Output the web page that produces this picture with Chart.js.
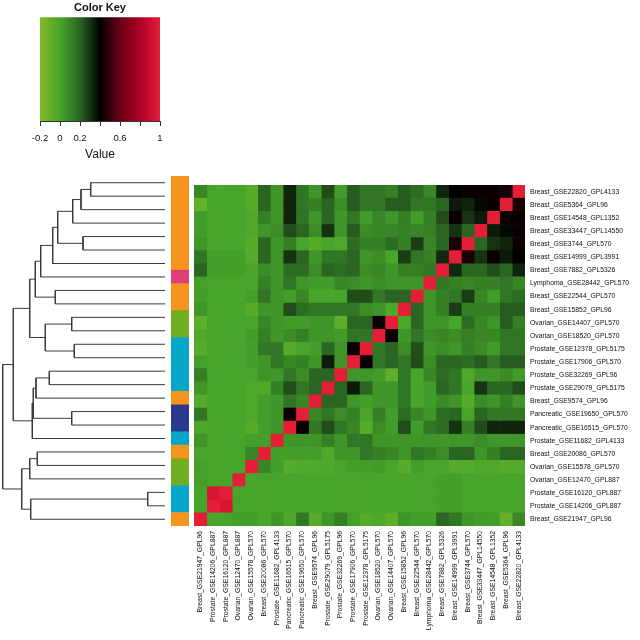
<!DOCTYPE html>
<html>
<head>
<meta charset="utf-8">
<script src="https://cdn.jsdelivr.net/npm/chart.js@4.4.0/dist/chart.umd.min.js"></script>
<style>
body { margin: 0; background: #fff; width: 640px; height: 640px; position: relative; overflow: hidden; }
.box { position: absolute; }
</style>
</head>
<body>
<div class="box" style="left:0;top:0;width:200px;height:165px"><canvas id="key"></canvas></div>
<div class="box" style="left:0;top:176px;width:165px;height:350px"><canvas id="dendro"></canvas></div>
<div class="box" style="left:171px;top:176px;width:18px;height:350px"><canvas id="side"></canvas></div>
<div class="box" style="left:194px;top:176px;width:446px;height:464px"><canvas id="heat"></canvas></div>
<script>
// rows, top to bottom (columns are the same samples, left to right = bottom to top)
var rowNames = [
    'Breast_GSE22820_GPL4133', 'Breast_GSE5364_GPL96', 'Breast_GSE14548_GPL1352',
    'Breast_GSE33447_GPL14550', 'Breast_GSE3744_GPL570', 'Breast_GSE14999_GPL3991',
    'Breast_GSE7882_GPL5326', 'Lymphoma_GSE28442_GPL570', 'Breast_GSE22544_GPL570',
    'Breast_GSE15852_GPL96', 'Ovarian_GSE14407_GPL570', 'Ovarian_GSE18520_GPL570',
    'Prostate_GSE12378_GPL5175', 'Prostate_GSE17906_GPL570', 'Prostate_GSE32269_GPL96',
    'Prostate_GSE29079_GPL5175', 'Breast_GSE9574_GPL96', 'Pancreatic_GSE19650_GPL570',
    'Pancreatic_GSE16515_GPL570', 'Prostate_GSE11682_GPL4133', 'Breast_GSE20086_GPL570',
    'Ovarian_GSE15578_GPL570', 'Ovarian_GSE12470_GPL887', 'Prostate_GSE16120_GPL887',
    'Prostate_GSE14206_GPL887', 'Breast_GSE21947_GPL96'
];
var colNames = rowNames.slice().reverse();

var typeColors = {
    Breast: '#f7941d', Lymphoma: '#e03d7c', Ovarian: '#72ad1f',
    Prostate: '#06a7c6', Pancreatic: '#2b3a8a'
};

// correlations: for each row, the cells left of the diagonal (column 1 .. 26-row)
var lowerCorr = [
    [0.10, 0.00, 0.00, 0.00, -0.05, 0.20, 0.05, 0.33, 0.15, 0.05, 0.25, 0.03, 0.22, 0.15, 0.15, 0.12, 0.22, 0.18, 0.10, 0.33, 0.40, 0.42, 0.42, 0.42, 0.45],
    [-0.10, 0.00, 0.00, 0.00, -0.05, 0.20, 0.05, 0.33, 0.15, 0.12, 0.20, 0.08, 0.22, 0.15, 0.15, 0.22, 0.22, 0.15, 0.15, 0.20, 0.35, 0.33, 0.38, 0.42],
    [0.03, 0.00, 0.00, 0.00, -0.03, 0.12, 0.05, 0.33, 0.15, 0.05, 0.20, 0.05, 0.15, 0.03, 0.10, 0.05, 0.12, 0.03, 0.12, 0.25, 0.42, 0.30, 0.35],
    [0.03, 0.00, 0.00, 0.00, -0.03, 0.05, 0.08, 0.25, 0.20, 0.08, 0.30, 0.05, 0.22, 0.08, 0.10, 0.10, 0.12, 0.10, 0.12, 0.20, 0.30, 0.20],
    [0.05, 0.00, 0.00, 0.00, -0.05, 0.20, 0.05, 0.12, 0.00, -0.05, 0.00, -0.03, 0.18, 0.12, 0.12, 0.18, 0.12, 0.28, 0.10, 0.20, 0.45],
    [0.15, 0.02, 0.02, 0.02, -0.05, 0.20, 0.05, 0.30, 0.20, 0.05, 0.15, 0.15, 0.20, 0.05, 0.08, 0.00, 0.28, 0.15, 0.12, 0.32],
    [0.20, 0.02, 0.02, 0.02, 0.00, 0.08, 0.05, 0.18, 0.18, 0.08, 0.20, 0.18, 0.20, 0.08, 0.10, 0.05, 0.12, 0.12, 0.15],
    [0.02, 0.00, 0.00, 0.00, 0.00, 0.12, 0.05, 0.15, 0.05, 0.03, 0.03, 0.10, 0.08, 0.05, 0.08, 0.05, 0.05, 0.05],
    [0.02, 0.00, 0.00, 0.00, 0.02, 0.15, 0.05, 0.03, 0.10, 0.00, 0.00, 0.00, 0.25, 0.25, 0.15, 0.20, 0.20],
    [0.05, 0.00, 0.00, 0.00, -0.05, 0.05, 0.05, 0.25, 0.18, 0.15, 0.15, 0.15, 0.15, 0.08, 0.05, -0.02],
    [-0.08, 0.00, 0.00, 0.00, 0.00, 0.10, 0.05, 0.03, 0.03, 0.05, 0.05, -0.08, 0.20, 0.20, 0.42],
    [-0.03, 0.00, 0.00, 0.00, 0.03, 0.12, 0.05, 0.08, 0.12, 0.05, 0.05, 0.03, 0.15, 0.15],
    [-0.05, 0.00, 0.00, 0.00, 0.02, 0.15, 0.15, -0.05, 0.00, 0.02, 0.20, 0.05, 0.42],
    [0.02, 0.00, 0.00, 0.00, 0.02, 0.05, 0.15, 0.10, 0.12, 0.05, 0.35, 0.05],
    [0.12, 0.00, 0.00, 0.00, 0.00, 0.05, 0.05, 0.15, 0.08, 0.20, 0.20],
    [0.05, 0.00, 0.00, 0.00, -0.03, -0.03, 0.12, 0.25, 0.15, 0.20],
    [-0.05, 0.00, 0.00, 0.00, -0.03, 0.02, 0.05, 0.15, 0.10],
    [0.15, 0.00, 0.00, 0.00, -0.03, 0.02, 0.05, 0.42],
    [-0.02, 0.00, 0.00, 0.00, -0.05, 0.02, 0.05],
    [0.05, 0.00, 0.00, 0.00, 0.02, 0.02],
    [0.00, 0.00, 0.00, 0.00, 0.10],
    [0.02, 0.00, 0.00, 0.00],
    [0.02, 0.00, 0.00],
    [0.00, 0.95],
    [0.00],
    []
];

// row dendrogram, hclust style: negative = leaf (row number), positive = earlier merge
var mergeLeft = [-1, 1, 2, -5, 3, 5, 6, -9, 7, -11, -13, 10, 9, -15, 14, -18, 15, 17, 13, -21, 20, -24, 22, 21, 19];
var mergeRight = [-2, -3, -4, -6, 4, -7, -8, -10, 8, -12, -14, 11, 12, -16, -17, -19, 16, -20, 18, -22, -23, -25, -26, 23, 24];
var mergeHeight = [74.3, 84, 92.3, 82, 107.3, 112.3, 124.3, 109.7, 129.7, 93.3, 90.7, 119.7, 135.3, 115.7, 129, 93.3, 131.7, 132.7, 151.7, 127.7, 135.3, 17.3, 134.3, 143.3, 162.3];

// colour key
var keyStops = [-0.2, 0, 0.2, 0.4, 0.6, 0.8, 1];
var keyColors = [[132, 187, 40], [70, 165, 42], [42, 102, 34], [0, 0, 0], [105, 0, 22], [175, 0, 38], [228, 30, 55]];
var keyTickLabels = ['-0.2', '0', '0.2', '', '0.6', '', '1'];

var labelFont = {family: '"Liberation Sans", Arial, sans-serif', size: 6.8};

function valueColor(v) {
    v = Math.max(keyStops[0], Math.min(1, v));
    for (var i = 1; i < keyStops.length; i++) {
        if (v <= keyStops[i]) {
            var t = (v - keyStops[i - 1]) / (keyStops[i] - keyStops[i - 1]);
            var a = keyColors[i - 1], b = keyColors[i];
            return 'rgb(' + [0, 1, 2].map(function (k) {
                return Math.round(a[k] + (b[k] - a[k]) * t);
            }).join(',') + ')';
        }
    }
    return 'rgb(' + keyColors[keyColors.length - 1].join(',') + ')';
}

function corr(a, b) {
    if (a === b) return 1;
    var i = Math.min(a, b), k = Math.max(a, b);
    return lowerCorr[i][25 - k];
}

Chart.defaults.animation = false;
Chart.defaults.font.family = '"Liberation Sans", Arial, sans-serif';
Chart.defaults.color = '#111';

// ---- colour key ----
new Chart(document.getElementById('key'), {
    type: 'bar',
    data: {
        labels: [''],
        datasets: [{
            data: [[keyStops[0], keyStops[keyStops.length - 1]]],
            barPercentage: 1,
            categoryPercentage: 1,
            borderWidth: 0,
            backgroundColor: function (ctx) {
                var chart = ctx.chart;
                if (!chart.chartArea) return '#000';
                var xs = chart.scales.x;
                var lo = keyStops[0], hi = keyStops[keyStops.length - 1];
                var g = chart.ctx.createLinearGradient(xs.getPixelForValue(lo), 0, xs.getPixelForValue(hi), 0);
                keyStops.forEach(function (v, i) {
                    g.addColorStop((v - lo) / (hi - lo), 'rgb(' + keyColors[i].join(',') + ')');
                });
                return g;
            }
        }]
    },
    options: {
        indexAxis: 'y',
        responsive: true,
        maintainAspectRatio: false,
        layout: {padding: {left: 40, right: 40, top: 0, bottom: 0}},
        plugins: {
            legend: {display: false},
            tooltip: {enabled: false},
            title: {
                display: true, text: 'Color Key', color: '#111',
                font: {size: 11, weight: 'bold'},
                padding: {top: 1, bottom: 3}
            }
        },
        scales: {
            x: {
                type: 'linear', min: -0.2, max: 1,
                afterBuildTicks: function (scale) {
                    scale.ticks = keyStops.map(function (v) { return {value: v}; });
                },
                ticks: {
                    font: {size: 9.5}, padding: 7, maxRotation: 0,
                    callback: function (v, i) { return keyTickLabels[i]; }
                },
                grid: {drawOnChartArea: false, tickLength: 5, color: '#333'},
                border: {display: true, color: '#333'},
                title: {display: true, text: 'Value', font: {size: 12}, padding: {top: 2, bottom: 3}},
                afterFit: function (scale) { scale.height = 44; }
            },
            y: {display: false}
        }
    }
});

// ---- row dendrogram ----
function leafY(row) { return 26 - row + 0.5; }
var nodes = [];
var dendroPoints = [];
function nodePos(id) { return id < 0 ? {y: leafY(-id), h: 0} : nodes[id - 1]; }
mergeHeight.forEach(function (h, k) {
    var a = nodePos(mergeLeft[k]), b = nodePos(mergeRight[k]);
    dendroPoints.push({x: a.h, y: a.y}, {x: h, y: a.y}, {x: h, y: b.y}, {x: b.h, y: b.y}, {x: h, y: null});
    nodes.push({y: (a.y + b.y) / 2, h: h});
});

new Chart(document.getElementById('dendro'), {
    type: 'scatter',
    data: {
        datasets: [{
            data: dendroPoints,
            showLine: true,
            spanGaps: false,
            pointRadius: 0,
            borderColor: '#3a3a3a',
            borderWidth: 1
        }]
    },
    options: {
        responsive: true,
        maintainAspectRatio: false,
        layout: {padding: 0},
        plugins: {legend: {display: false}, tooltip: {enabled: false}},
        scales: {
            x: {type: 'linear', min: 0, max: 165, reverse: true, display: false},
            y: {type: 'linear', min: 0, max: 26, display: false}
        }
    }
});

// ---- side colour bar ----
new Chart(document.getElementById('side'), {
    type: 'bar',
    data: {
        labels: rowNames,
        datasets: [{
            data: rowNames.map(function () { return [0, 1]; }),
            backgroundColor: rowNames.map(function (n) { return typeColors[n.split('_')[0]]; }),
            barPercentage: 1,
            categoryPercentage: 1,
            borderWidth: 0
        }]
    },
    options: {
        indexAxis: 'y',
        responsive: true,
        maintainAspectRatio: false,
        layout: {padding: 0},
        plugins: {legend: {display: false}, tooltip: {enabled: false}},
        scales: {
            x: {type: 'linear', min: 0, max: 1, display: false},
            y: {display: false}
        }
    }
});

// ---- heatmap: one floating-bar dataset per column ----
var heatSets = colNames.map(function (name, c) {
    var other = 25 - c;
    return {
        label: name,
        data: rowNames.map(function () { return [c, c + 1]; }),
        backgroundColor: rowNames.map(function (n, r) { return valueColor(corr(r, other)); }),
        barPercentage: 1,
        categoryPercentage: 1,
        borderWidth: 0,
        grouped: false
    };
});

new Chart(document.getElementById('heat'), {
    type: 'bar',
    data: {labels: rowNames, datasets: heatSets},
    options: {
        indexAxis: 'y',
        responsive: true,
        maintainAspectRatio: false,
        layout: {padding: 0},
        plugins: {legend: {display: false}, tooltip: {enabled: false}},
        scales: {
            x: {type: 'linear', min: 0, max: 26, display: false},
            y: {
                type: 'category', position: 'right',
                grid: {display: false, drawTicks: false},
                border: {display: false},
                ticks: {font: labelFont, color: '#111', padding: 5, autoSkip: false},
                afterFit: function (scale) { scale.width = 115; }
            },
            xc: {
                type: 'category', labels: colNames, position: 'bottom', offset: true,
                grid: {display: false, drawTicks: false},
                border: {display: false},
                ticks: {font: labelFont, color: '#111', padding: 5, autoSkip: false, minRotation: 90, maxRotation: 90},
                afterFit: function (scale) { scale.height = 114; }
            }
        }
    }
});
</script>
</body>
</html>
